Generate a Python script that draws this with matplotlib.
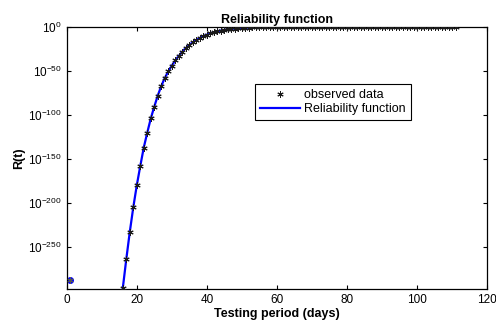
import numpy as np
import matplotlib
matplotlib.use("Agg")
import matplotlib.pyplot as plt
from matplotlib.ticker import FixedLocator, FixedFormatter
from matplotlib.lines import Line2D

plt.rcParams['font.family'] = ['Liberation Sans', 'DejaVu Sans']
plt.rcParams['mathtext.fontset'] = 'custom'
plt.rcParams['mathtext.rm'] = 'Liberation Sans'
plt.rcParams['mathtext.it'] = 'Liberation Sans'

# early observation
early_day = [1]
early_log10R = [-287]

# observed days and log10 of reliability
days = list(range(16, 112))
log10R = [-297, -264, -233, -205, -180, -158, -137, -120, -104, -90.5,
          -78, -67, -58, -50.5, -44, -38, -33, -28, -24, -20.5,
          -17.5, -14.8, -12.5, -10.5, -8.8, -7.3, -6.1, -5.0, -4.1, -3.4,
          -2.8, -2.3, -1.9, -1.5, -1.2, -0.95, -0.75, -0.6, -0.47, -0.37,
          -0.29, -0.22, -0.17, -0.13, -0.1, -0.08, -0.065, -0.05, -0.04, -0.032,
          -0.026, -0.021, -0.017, -0.014, -0.011, -0.009, -0.008, -0.007, -0.006, -0.005,
          -0.004, -0.0035, -0.003, -0.0026, -0.0022, -0.002, -0.0017, -0.0015, -0.0013, -0.0011,
          -0.001, -0.0009, -0.0008, -0.0007, -0.0006, -0.0005, -0.00045, -0.0004, -0.00035, -0.0003,
          -0.00027, -0.00024, -0.00021, -0.00018, -0.00016, -0.00014, -0.00012, -0.0001, -0.00009, -0.00008,
          -0.00007, -0.00006, -0.00005, -0.00004, -0.00003, -0.00002]

ytick_exps = [0, -50, -100, -150, -200, -250]
xticks = [0, 20, 40, 60, 80, 100, 120]

R = [10.0 ** v for v in log10R]
R_early = [10.0 ** v for v in early_log10R]

fig = plt.figure(figsize=(4.96, 3.24), dpi=100)
ax = fig.add_axes([0.1345, 0.107, 0.8475, 0.81])

asterisk = (6, 2, 0)
mk_color = '#1a1a1a'
ax.plot(days, R, color='#0000ff', lw=1.6, zorder=2)
ax.plot(early_day, R_early, 'o', color='#0000ff', ms=4, zorder=2)
ax.plot(days, R, linestyle='none', marker=asterisk, color=mk_color, ms=4.5, mew=0.7, zorder=3)
ax.plot(early_day, R_early, linestyle='none', marker=asterisk, color='#555555', ms=4.5, mew=0.7, zorder=3)

ax.set_yscale('log')
ax.set_xlim(0, 120)
ax.set_ylim(10.0 ** -298, 1.0)
ax.yaxis.set_major_locator(FixedLocator([10.0 ** e for e in ytick_exps]))
ax.yaxis.set_major_formatter(FixedFormatter(['$10^{%d}$' % e for e in ytick_exps]))
ax.yaxis.set_minor_locator(FixedLocator([]))
ax.set_xticks(xticks)
ax.tick_params(direction='in', top=True, right=True, labelsize=8.5, length=3, width=0.8)
for s in ax.spines.values():
    s.set_linewidth(0.9)

ax.set_title('Reliability function', fontsize=9, fontweight='bold', pad=3)
ax.set_xlabel('Testing period (days)', fontsize=9, fontweight='bold', labelpad=1)
ax.set_ylabel('R(t)', fontsize=9, fontweight='bold', labelpad=2)

handles = [Line2D([], [], linestyle='none', marker=asterisk, color=mk_color, ms=4.5, mew=0.7),
           Line2D([], [], color='#0000ff', lw=1.6)]
leg = ax.legend(handles, ['observed data', 'Reliability function'], loc='upper left',
                bbox_to_anchor=(0.448, 0.782), fontsize=9, fancybox=False, framealpha=1,
                edgecolor='black', borderpad=0.4, handlelength=3.2, labelspacing=0.15,
                handletextpad=0.35, borderaxespad=0)
leg.get_frame().set_linewidth(0.8)

fig.savefig('out.png', dpi=100)
